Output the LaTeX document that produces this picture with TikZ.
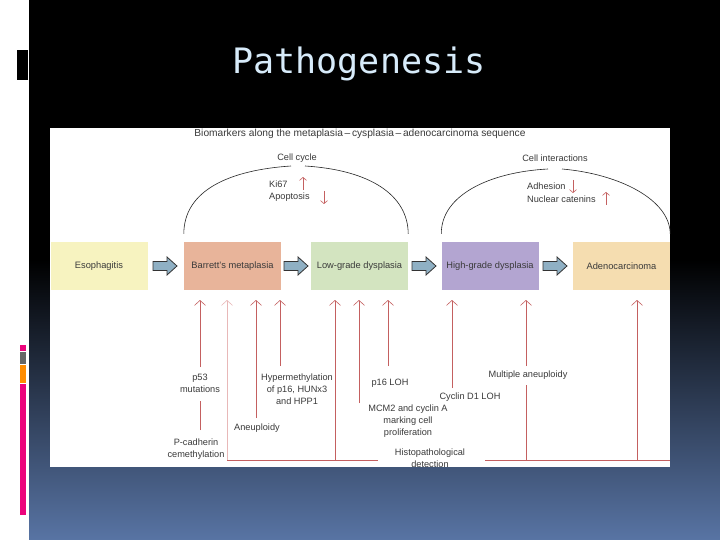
\documentclass[tikz,border=0pt]{standalone}
\usepackage{fontspec}
\setmainfont{Liberation Sans}
\newfontfamily\titlefont{DejaVu Sans Mono}
\usetikzlibrary{arrows.meta,calc}
\definecolor{txt}{HTML}{3A3A3A}
\definecolor{rd}{HTML}{C46060}
\definecolor{pale}{HTML}{E8B8B8}
\definecolor{blu}{HTML}{5874A4}
\definecolor{arrfill}{HTML}{8FB0C4}
\begin{document}
\begin{tikzpicture}[x=1pt,y=-1pt,
  box/.style={draw=none,minimum width=97pt,minimum height=48pt,inner sep=0pt,font=\fontsize{9.3}{10}\selectfont,text=txt},
  blk/.style={draw=black!80,fill=arrfill,line width=0.8pt,line join=miter},
  lbl/.style={font=\fontsize{9.2}{12.2}\selectfont,text=txt,align=center,inner sep=1pt},
  ra/.style={draw=rd,line width=0.6pt,-{Straight Barb[length=5pt,width=11pt]}},
  rl/.style={draw=rd,line width=0.6pt},
  sa/.style={draw=rd,line width=0.6pt,-{Straight Barb[length=3pt,width=7pt]}},
  arcst/.style={draw=black!85,line width=0.6pt}]
\useasboundingbox (0,0) rectangle (720,540);
% background
\fill[white] (0,0) rectangle (29,540);
\fill[black] (29,0) rectangle (720,260);
\shade[top color=black,bottom color=blu] (29,259.5) rectangle (720,540);
\fill[black] (17,50) rectangle (28,80);
\fill[magenta!85!red] (20,345) rectangle (26,351);
\fill[gray!80!black] (20,352) rectangle (26,364);
\fill[orange!90!yellow] (20,365) rectangle (26,383);
\fill[magenta!85!red] (20,384) rectangle (26,515);
\node[font=\titlefont\fontsize{35}{38}\selectfont,text={rgb,255:red,215;green,235;blue,250},anchor=center] (title) at (359,64) {Pathogenesis};
% diagram canvas
\fill[white] (50,128) rectangle (670,467);
\node[lbl,font=\fontsize{10.2}{11}\selectfont] (hdr) at (360,134) {Biomarkers along the metaplasia\,–\,cysplasia\,–\,adenocarcinoma sequence};
% boxes
\node[box,fill={rgb,255:red,247;green,243;blue,192}] (eso) at (99,266) {Esophagitis};
\node[box,fill={rgb,255:red,232;green,180;blue,154}] (bar) at (232.5,266) {Barrett's metaplasia};
\node[box,fill={rgb,255:red,211;green,228;blue,192}] (low) at (359.5,266) {Low-grade dysplasia};
\node[box,fill={rgb,255:red,179;green,165;blue,209}] (high) at (490,266) {High-grade dysplasia};
\node[box,fill={rgb,255:red,245;green,221;blue,176}] (ade) at (621.5,266) {Adenocarcinoma};
\foreach \cx/\nm in {165/a1,296/a2,424/a3,555/a4}{
  \coordinate (\nm) at (\cx,266);
  \draw[blk] ($(\nm)+(-12,-4.5)$) -- ($(\nm)+(2,-4.5)$) -- ($(\nm)+(2,-9)$) -- ($(\nm)+(12,0)$) -- ($(\nm)+(2,9)$) -- ($(\nm)+(2,4.5)$) -- ($(\nm)+(-12,4.5)$) -- cycle;
}
% arcs
\node[lbl] (cc) at (297,158) {Cell cycle};
\node[lbl] (ci) at (555,158) {Cell interactions};
\draw[arcst] ($(bar.north west)+(0,-8)$) .. controls (184,190) and (230,170) .. (291,166);
\draw[arcst] (305,166) .. controls (370,170) and (408,195) .. ($(low.north east)+(0,-8)$);
\draw[arcst] ($(high.north west)+(0,-8)$) .. controls (441,195) and (490,172) .. (548,169);
\draw[arcst] (562,169) .. controls (620,174) and (670,200) .. ($(ade.north east)+(0,-8)$);
\node[lbl,anchor=west] (ki) at (268,184) {Ki67};
\node[lbl,anchor=west] (apo) at (268,197) {Apoptosis};
\draw[sa] (303,190) -- (303,177);
\draw[sa] (324,191) -- (324,204);
\node[lbl,anchor=west] (adh) at (526,186) {Adhesion};
\node[lbl,anchor=west] (nuc) at (526,199) {Nuclear catenins};
\draw[sa] (573,180) -- (573,193);
\draw[sa] (606,205) -- (606,192);
% bottom labels
\node[lbl] (p53) at (200,383) {p53\\mutations};
\node[lbl] (pcad) at (196,449) {P-cadherin\\cemethylation};
\node[lbl] (aneu) at (257,428) {Aneuploidy};
\node[lbl] (hyp) at (297,389) {Hypermethylation\\of p16, HUNx3\\and HPP1};
\node[lbl] (p16) at (390,383) {p16 LOH};
\node[lbl] (mcm) at (408,421) {MCM2 and cyclin A\\marking cell\\proliferation};
\node[lbl] (cyc) at (470,397) {Cyclin D1 LOH};
\node[lbl] (mul) at (528,375) {Multiple aneuploidy};
\node[lbl] (his) at (430,458) {Histopathological\\detection};
% bottom arrows
\draw[rl] (200,430) -- (200,401);
\draw[ra] (200,367) -- (200,300);
\draw[draw=pale,line width=0.6pt,-{Straight Barb[length=5pt,width=11pt]}] (227,460) -- (227,300);
\draw[ra] (256,418) -- (256,300);
\draw[ra] (280,366) -- (280,300);
\draw[ra] (335,460) -- (335,300);
\draw[ra] (359,403) -- (359,300);
\draw[ra] (388,366) -- (388,300);
\draw[ra] (452,388) -- (452,300);
\draw[rl] (526,460) -- (526,385);
\draw[ra] (526,366) -- (526,300);
\draw[ra] (637,460) -- (637,300);
\draw[rl] (227,460) -- (378,460);
\draw[rl] (485,460) -- (670,460);
\end{tikzpicture}
\end{document}
